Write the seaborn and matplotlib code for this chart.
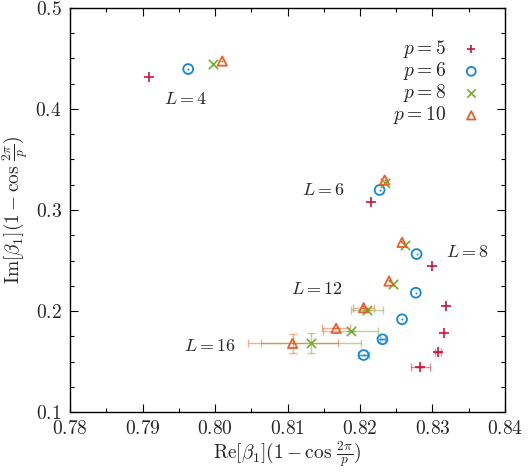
import numpy as np
import pandas as pd
import matplotlib
matplotlib.use("Agg")
import matplotlib.pyplot as plt
from matplotlib.ticker import MultipleLocator, FuncFormatter
import seaborn as sns

# ---------------- data ----------------
p_values = [5, 6, 8, 10]
L_values = [4, 6, 8, 10, 12, 14, 16]

re_p5 = [0.7909, 0.8215, 0.8299, 0.8319, 0.8316, 0.8308, 0.8283]
im_p5 = [0.4320, 0.3082, 0.2449, 0.2054, 0.1785, 0.1594, 0.1441]
xerr_p5 = [0, 0, 0, 0, 0, 0.0004, 0.0013]
yerr_p5 = [0, 0, 0, 0, 0, 0, 0]

re_p6 = [0.7963, 0.8227, 0.8278, 0.8277, 0.8258, 0.8231, 0.8205]
im_p6 = [0.4396, 0.3198, 0.2564, 0.2181, 0.1918, 0.1720, 0.1564]
xerr_p6 = [0, 0, 0, 0, 0, 0.0004, 0.0008]
yerr_p6 = [0, 0, 0, 0, 0, 0, 0]

re_p8 = [0.7997, 0.8235, 0.8262, 0.8245, 0.8210, 0.8187, 0.8133]
im_p8 = [0.4446, 0.3272, 0.2653, 0.2264, 0.2010, 0.1805, 0.1680]
xerr_p8 = [0, 0, 0, 0, 0.0022, 0.0038, 0.0069]
yerr_p8 = [0, 0, 0, 0, 0, 0, 0.0099]

re_p10 = [0.8010, 0.8234, 0.8258, 0.8240, 0.8205, 0.8167, 0.8107]
im_p10 = [0.4475, 0.3297, 0.2680, 0.2297, 0.2033, 0.1829, 0.1680]
xerr_p10 = [0, 0, 0, 0, 0.0015, 0.0019, 0.0062]
yerr_p10 = [0, 0, 0, 0, 0, 0, 0.0091]

L_labels = ["$L=4$", "$L=6$", "$L=8$", "$L=12$", "$L=16$"]
L_label_x = [0.7959, 0.8149, 0.8348, 0.8141, 0.7993]
L_label_y = [0.4099, 0.3198, 0.2584, 0.2218, 0.1653]

x_ticks = [0.78, 0.79, 0.80, 0.81, 0.82, 0.83, 0.84]
y_ticks = [0.1, 0.2, 0.3, 0.4, 0.5]

# ---------------- style ----------------
sns.set_theme(style="ticks")
plt.rcParams["font.family"] = ["DejaVu Serif"]
plt.rcParams["mathtext.fontset"] = "cm"

series = [
    (5, re_p5, im_p5, xerr_p5, yerr_p5, "+", "#c8173a", True),
    (6, re_p6, im_p6, xerr_p6, yerr_p6, "o", "#1585d8", False),
    (8, re_p8, im_p8, xerr_p8, yerr_p8, "x", "#72ad2d", True),
    (10, re_p10, im_p10, xerr_p10, yerr_p10, "^", "#e8602a", False),
]

fig = plt.figure(figsize=(5.32, 4.73), dpi=100)
ax = fig.add_axes([70 / 532, 1 - 412 / 473, 435 / 532, 404 / 473])

for p, xs, ys, xe, ye, mk, col, lineart in series:
    df = pd.DataFrame({"x": xs, "y": ys, "xerr": xe, "yerr": ye})
    eb = df[(df.xerr > 0) | (df.yerr > 0)]
    if len(eb):
        ax.errorbar(eb.x, eb.y, xerr=eb.xerr, yerr=eb.yerr,
                    fmt="none", ecolor=col, alpha=0.5, elinewidth=1.0,
                    capsize=3, capthick=1.0, zorder=2)
    label = f"$p={p}$"
    if lineart:
        sns.scatterplot(data=df, x="x", y="y", marker=mk, color=col, s=45,
                        linewidth=1.2, label=label, ax=ax, zorder=3)
    else:
        sns.scatterplot(data=df, x="x", y="y", marker=mk, facecolors="none",
                        edgecolor=col, s=50 if mk == "o" else 45,
                        linewidth=1.3, label=label, ax=ax, zorder=3)
        sns.scatterplot(data=df, x="x", y="y", marker="o", color=col, s=2,
                        linewidth=0, ax=ax, zorder=3, legend=False)

for t, lx, ly in zip(L_labels, L_label_x, L_label_y):
    ax.text(lx, ly, t, fontsize=13, ha="center", va="center")

ax.set_xlim(0.78, 0.84)
ax.set_ylim(0.1, 0.5)
ax.set_xticks(x_ticks)
ax.set_yticks(y_ticks)
ax.xaxis.set_minor_locator(MultipleLocator(0.005))
ax.yaxis.set_minor_locator(MultipleLocator(0.025))
ax.xaxis.set_major_formatter(FuncFormatter(lambda v, _: f"${v:.2f}$"))
ax.yaxis.set_major_formatter(FuncFormatter(lambda v, _: f"${v:.1f}$"))
ax.tick_params(which="both", direction="in", top=True, right=True,
               labelsize=14, pad=6, color="black")
ax.tick_params(which="major", length=6, width=0.8)
ax.tick_params(which="minor", length=3, width=0.8)
for s in ax.spines.values():
    s.set_color("black")
    s.set_linewidth(1.0)

ax.set_xlabel(r"$\mathrm{Re}[\beta_1](1-\cos\,\frac{2\pi}{p})$", fontsize=14, labelpad=1)
ax.set_ylabel(r"$\mathrm{Im}[\beta_1](1-\cos\,\frac{2\pi}{p})$", fontsize=14, labelpad=4)

leg = ax.legend(loc="upper right", bbox_to_anchor=(0.985, 0.968), frameon=False,
                markerfirst=False, fontsize=14, labelspacing=0.0,
                handlelength=1.0, handletextpad=0.8, markerscale=0.9)

fig.savefig("out.png", dpi=100)
